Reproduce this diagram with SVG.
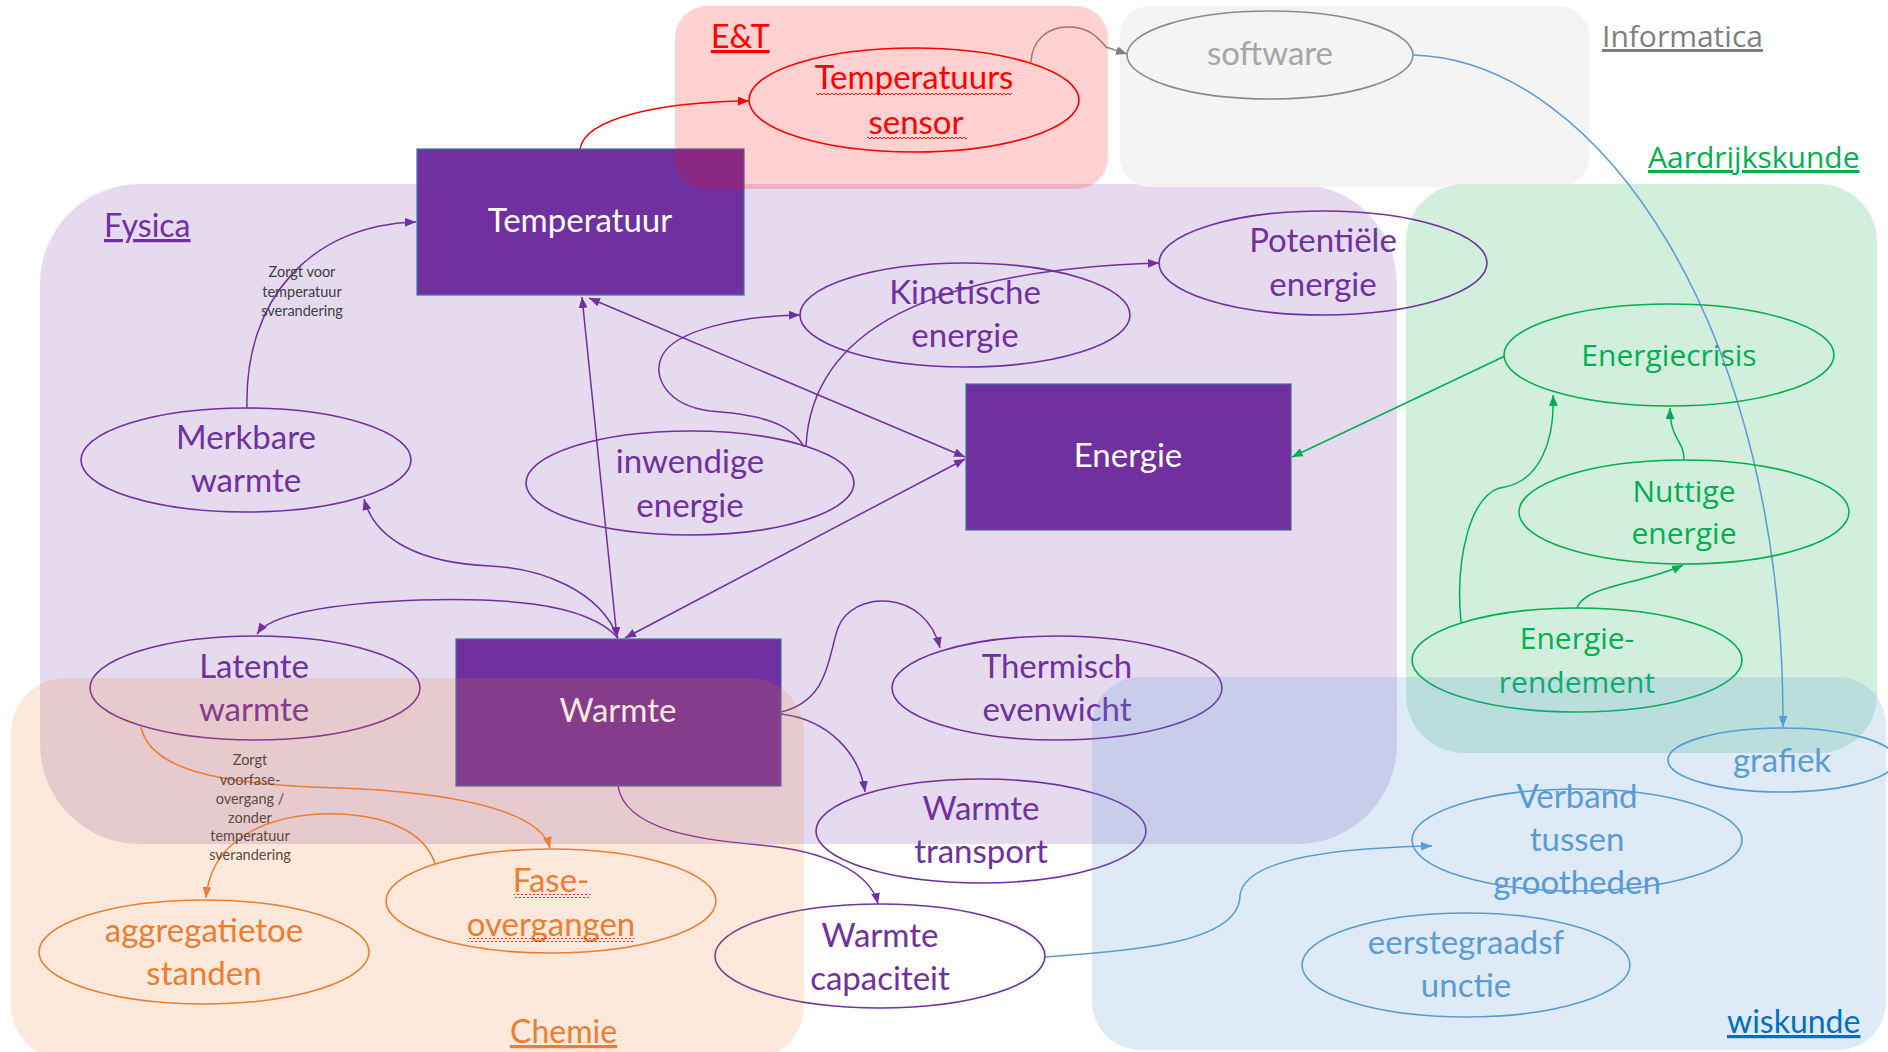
<svg xmlns="http://www.w3.org/2000/svg" width="1888" height="1052" viewBox="0 0 1888 1052">
<style>
.cal{font-family:Lato,"Open Sans",sans-serif;font-size:33px;text-anchor:middle}
.seg{font-family:"Open Sans",sans-serif;font-size:30px;text-anchor:middle}
.lbl{font-family:Lato,"Open Sans",sans-serif;font-size:14.5px;fill:#404040;text-anchor:middle}
.reg{font-family:Lato,sans-serif;font-size:32px;text-decoration:underline}
.regs{font-family:"Open Sans",sans-serif;font-size:30px;text-decoration:underline}
.e{fill:none;stroke-width:1.6}
.box{stroke:#41719c;stroke-width:1.2;fill:#7030a0}
.c{fill:none;stroke-width:1.5}
.pu{stroke:#7030a0}.re{stroke:#ff0000}.gr{stroke:#8c8c8c}.or{stroke:#ed7d31}.gn{stroke:#00b050}.bl{stroke:#5b9bd5}
.tpu{fill:#7030a0}.tre{fill:#ff0000}.tgr{fill:#a6a6a6}.tor{fill:#ed7d31}.tgn{fill:#00b050}.tbl{fill:#5b9bd5}.tw{fill:#ffffff}
</style>
<defs>
<marker id="aPu" viewBox="0 0 10 8" refX="10" refY="4" markerWidth="11" markerHeight="9" markerUnits="userSpaceOnUse" orient="auto-start-reverse"><path d="M0,0 L10,4 L0,8 z" fill="#7030a0"/></marker>
<marker id="aRe" viewBox="0 0 10 8" refX="10" refY="4" markerWidth="11" markerHeight="9" markerUnits="userSpaceOnUse" orient="auto-start-reverse"><path d="M0,0 L10,4 L0,8 z" fill="#ff0000"/></marker>
<marker id="aGr" viewBox="0 0 10 8" refX="10" refY="4" markerWidth="11" markerHeight="9" markerUnits="userSpaceOnUse" orient="auto-start-reverse"><path d="M0,0 L10,4 L0,8 z" fill="#7f7f7f"/></marker>
<marker id="aOr" viewBox="0 0 10 8" refX="10" refY="4" markerWidth="11" markerHeight="9" markerUnits="userSpaceOnUse" orient="auto-start-reverse"><path d="M0,0 L10,4 L0,8 z" fill="#ed7d31"/></marker>
<marker id="aGn" viewBox="0 0 10 8" refX="10" refY="4" markerWidth="11" markerHeight="9" markerUnits="userSpaceOnUse" orient="auto-start-reverse"><path d="M0,0 L10,4 L0,8 z" fill="#00b050"/></marker>
<marker id="aBl" viewBox="0 0 10 8" refX="10" refY="4" markerWidth="11" markerHeight="9" markerUnits="userSpaceOnUse" orient="auto-start-reverse"><path d="M0,0 L10,4 L0,8 z" fill="#5b9bd5"/></marker>
<pattern id="wavy" width="4" height="4" patternUnits="userSpaceOnUse"><path d="M0,1 L2,3 L4,1" fill="none" stroke="#ff0000" stroke-width="0.9"/></pattern>
</defs>
<rect width="1888" height="1052" fill="#ffffff"/>

<g id="regions-base">
<rect x="40" y="184" width="1357" height="660" rx="100" ry="100" fill="#e5daee"/>
<rect x="1120" y="6" width="469" height="181" rx="30" ry="30" fill="#f4f4f4"/>
<rect x="1406" y="184" width="471" height="569" rx="58" ry="58" fill="#d1efdc"/>
</g>

<g id="connectors">
<path class="c pu" d="M247,408 C244,300 310,225 416,222" marker-end="url(#aPu)"/>
<path class="c pu" d="M582,297 L617,638" marker-start="url(#aPu)" marker-end="url(#aPu)"/>
<path class="c pu" d="M589,298 L965,457" marker-start="url(#aPu)" marker-end="url(#aPu)"/>
<path class="c pu" d="M625,638 L965,459" marker-start="url(#aPu)" marker-end="url(#aPu)"/>
<path class="c pu" d="M804,447 C790,420 750,414 710,411 C665,405 652,375 662,356 C675,330 740,316 800,315" marker-end="url(#aPu)"/>
<path class="c pu" d="M806,446 C812,330 930,270 1159,263" marker-end="url(#aPu)"/>
<path class="c pu" d="M618,638 C600,590 540,568 490,566 C420,563 375,540 364,499" marker-end="url(#aPu)"/>
<path class="c pu" d="M618,638 C585,600 490,598 420,600 C340,603 272,612 257,634" marker-end="url(#aPu)"/>
<path class="c pu" d="M781,712 C830,700 828,655 838,628 C852,590 925,588 940,648" marker-end="url(#aPu)"/>
<path class="c pu" d="M781,714 C830,720 860,755 865,792" marker-end="url(#aPu)"/>
<path class="c pu" d="M618,786 C625,830 700,840 760,845 C820,850 870,870 878,904" marker-end="url(#aPu)"/>
<path class="c re" d="M580,149 C585,118 660,102 749,101" marker-end="url(#aRe)"/>
<path class="c gr" d="M1031,62 C1032,40 1048,27 1068,27 C1090,27 1098,38 1106,47 L1127,54" marker-end="url(#aGr)"/>
<path class="c bl" d="M1413,55 C1600,60 1785,330 1783,727" marker-end="url(#aBl)"/>
<path class="c bl" d="M1045,957 C1150,950 1240,940 1240,895 C1245,860 1330,848 1432,846" marker-end="url(#aBl)"/>
<path class="c or" d="M141,727 C150,770 220,785 340,788 C450,792 540,810 550,848" marker-end="url(#aOr)"/>
<path class="c or" d="M435,864 C425,830 380,812 320,814 C250,818 210,850 206,898" marker-end="url(#aOr)"/>
<path class="c gn" d="M1505,356 L1292,457" marker-end="url(#aGn)"/>
<path class="c gn" d="M1684,460 C1684,440 1670,440 1670,408" marker-end="url(#aGn)"/>
<path class="c gn" d="M1461,622 C1455,560 1470,490 1505,487 C1540,480 1555,440 1553,395" marker-end="url(#aGn)"/>
<path class="c gn" d="M1577,608 C1585,585 1640,585 1683,565" marker-end="url(#aGn)"/>
<text class="lbl" x="302" y="277">Zorgt voor</text>
<text class="lbl" x="302" y="297">temperatuur</text>
<text class="lbl" x="302" y="316">sverandering</text>
<text class="lbl" x="250" y="765">Zorgt</text>
<text class="lbl" x="250" y="785">voorfase-</text>
<text class="lbl" x="250" y="804">overgang /</text>
<text class="lbl" x="250" y="823">zonder</text>
<text class="lbl" x="250" y="841">temperatuur</text>
<text class="lbl" x="250" y="860">sverandering</text>
</g>

<g id="n-temperatuur"><rect class="box" x="417" y="149" width="327" height="146"/><text class="cal tw" x="580" y="232">Temperatuur</text></g>
<g id="n-energie"><rect class="box" x="966" y="384" width="325" height="146"/><text class="cal tw" x="1128" y="467">Energie</text></g>
<g id="n-warmte"><rect class="box" x="456" y="639" width="325" height="147"/><text class="cal tw" x="618" y="722">Warmte</text></g>

<g id="n-sensor"><ellipse class="e re" cx="914" cy="100" rx="165" ry="52"/><text class="cal tre" x="914" y="89">Temperatuurs</text><text class="cal tre" x="916" y="134">sensor</text><rect x="816" y="92" width="196" height="4" fill="url(#wavy)"/><rect x="867" y="136" width="100" height="4" fill="url(#wavy)"/></g>
<g id="n-software"><ellipse class="e gr" cx="1270" cy="55" rx="143" ry="44"/><text class="cal tgr" x="1270" y="65">software</text></g>
<g id="n-potentiele"><ellipse class="e pu" cx="1323" cy="263" rx="164" ry="52"/><text class="cal tpu" x="1323" y="252">Potentiële</text><text class="cal tpu" x="1323" y="296">energie</text></g>
<g id="n-kinetische"><ellipse class="e pu" cx="965" cy="315" rx="165" ry="52"/><text class="cal tpu" x="965" y="304">Kinetische</text><text class="cal tpu" x="965" y="347">energie</text></g>
<g id="n-inwendige"><ellipse class="e pu" cx="690" cy="483" rx="164" ry="52"/><text class="cal tpu" x="690" y="473">inwendige</text><text class="cal tpu" x="690" y="517">energie</text></g>
<g id="n-merkbare"><ellipse class="e pu" cx="246" cy="460" rx="165" ry="52"/><text class="cal tpu" x="246" y="449">Merkbare</text><text class="cal tpu" x="246" y="492">warmte</text></g>
<g id="n-latente"><ellipse class="e pu" cx="255" cy="688" rx="165" ry="52"/><text class="cal tpu" x="254" y="678">Latente</text><text class="cal tpu" x="254" y="721">warmte</text></g>
<g id="n-thermisch"><ellipse class="e pu" cx="1057" cy="688" rx="165" ry="52"/><text class="cal tpu" x="1057" y="678">Thermisch</text><text class="cal tpu" x="1057" y="721">evenwicht</text></g>
<g id="n-warmtetransport"><ellipse class="e pu" cx="981" cy="831" rx="165" ry="52"/><text class="cal tpu" x="981" y="820">Warmte</text><text class="cal tpu" x="981" y="863">transport</text></g>
<g id="n-warmtecapaciteit"><ellipse class="e pu" cx="880" cy="956" rx="165" ry="52"/><text class="cal tpu" x="880" y="947">Warmte</text><text class="cal tpu" x="880" y="990">capaciteit</text></g>
<g id="n-fase"><ellipse class="e or" cx="551" cy="901" rx="165" ry="52"/><text class="cal tor" x="551" y="892">Fase-</text><text class="cal tor" x="551" y="936">overgangen</text><rect x="514" y="894" width="76" height="4" fill="url(#wavy)"/><rect x="468" y="938" width="166" height="4" fill="url(#wavy)"/></g>
<g id="n-aggregatie"><ellipse class="e or" cx="204" cy="952" rx="165" ry="52"/><text class="cal tor" x="204" y="942">aggregatietoe</text><text class="cal tor" x="204" y="985">standen</text></g>
<g id="n-energiecrisis"><ellipse class="e gn" cx="1669" cy="355" rx="165" ry="51"/><text class="seg tgn" x="1669" y="366">Energiecrisis</text></g>
<g id="n-nuttige"><ellipse class="e gn" cx="1684" cy="512" rx="165" ry="52"/><text class="seg tgn" x="1684" y="502">Nuttige</text><text class="seg tgn" x="1684" y="544">energie</text></g>
<g id="n-rendement"><ellipse class="e gn" cx="1577" cy="660" rx="165" ry="52"/><text class="seg tgn" x="1577" y="649">Energie-</text><text class="seg tgn" x="1577" y="693">rendement</text></g>
<g id="n-grafiek"><ellipse class="e bl" cx="1782" cy="760" rx="114" ry="32"/><text class="cal tbl" x="1782" y="772">grafiek</text></g>
<g id="n-verband"><ellipse class="e bl" cx="1577" cy="840" rx="165" ry="51"/><text class="cal tbl" x="1577" y="808">Verband</text><text class="cal tbl" x="1577" y="851">tussen</text><text class="cal tbl" x="1577" y="894">grootheden</text></g>
<g id="n-eerstegraads"><ellipse class="e bl" cx="1466" cy="965" rx="164" ry="52"/><text class="cal tbl" x="1466" y="954">eerstegraadsf</text><text class="cal tbl" x="1466" y="997">unctie</text></g>

<g id="regions-overlay">
<rect x="675" y="6" width="433" height="183" rx="32" ry="32" fill="#ff0000" fill-opacity="0.18"/>
<rect x="11" y="678" width="793" height="382" rx="55" ry="55" fill="#ed7d31" fill-opacity="0.17"/>
<rect x="1092" y="677" width="794" height="373" rx="48" ry="48" fill="#5b9bd5" fill-opacity="0.2"/>
</g>

<g id="region-labels">
<text class="reg" x="711" y="48" fill="#ff0000">E&amp;T</text>
<text class="regs" x="1602" y="47" fill="#7f7f7f">Informatica</text>
<text class="regs" x="1648" y="168" fill="#00b050">Aardrijkskunde</text>
<text class="reg" x="104" y="237" fill="#7030a0">Fysica</text>
<text class="reg" x="510" y="1043" fill="#ed7d31">Chemie</text>
<text class="reg" x="1727" y="1033" fill="#0070c0">wiskunde</text>
</g>
</svg>
